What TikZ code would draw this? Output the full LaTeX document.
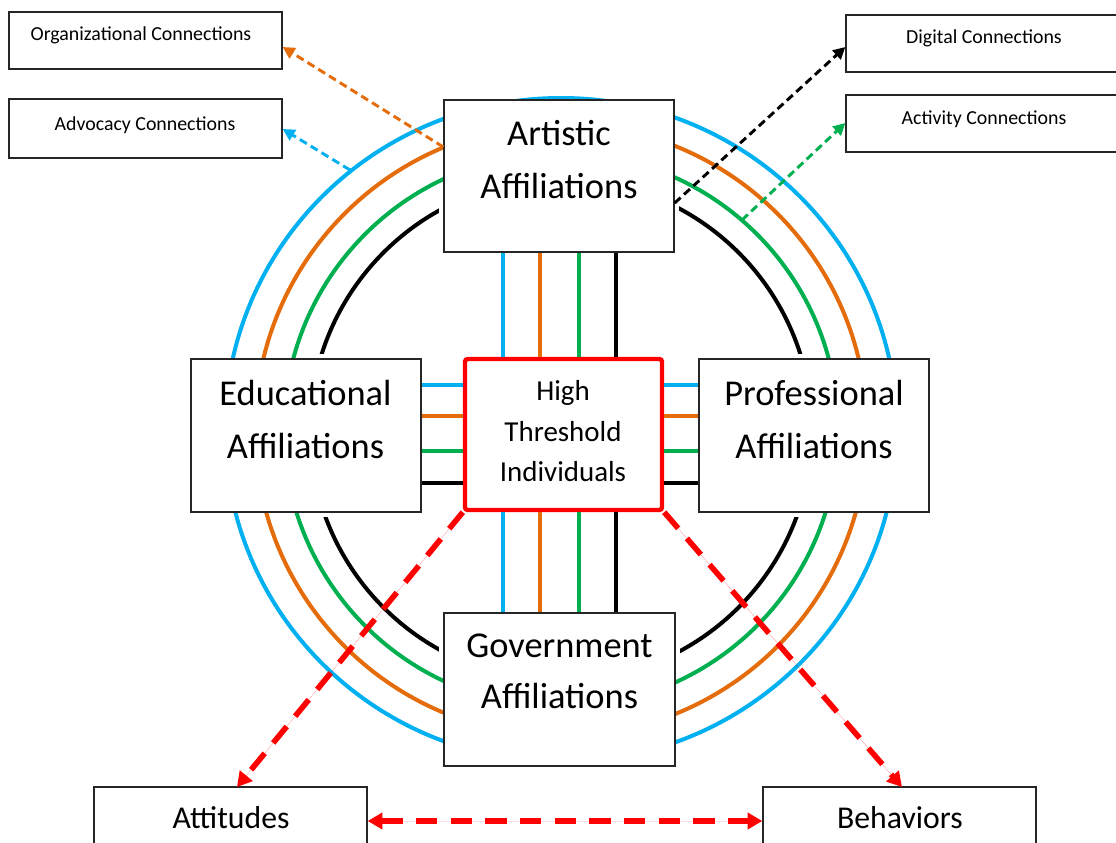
\documentclass[tikz,border=0pt]{standalone}
\usepackage{fontspec}
\setmainfont{Carlito}
\usetikzlibrary{arrows.meta,fit}
\definecolor{cblue}{HTML}{00B0F0}
\definecolor{corange}{HTML}{E46C0A}
\definecolor{cgreen}{HTML}{00B050}
\definecolor{cred}{HTML}{FF0000}
\tikzset{redtip/.tip={Triangle[length=11pt,width=12pt]}}
\begin{document}
\begin{tikzpicture}[x=0.75pt,y=-0.75pt,
  box/.style={draw=black!85, line width=1pt, fill=white, inner sep=0pt},
  ring/.style={line width=3pt},
  bar/.style={line width=3pt},
  txt/.style={inner sep=0pt, anchor=base},
  big/.style={txt, font=\fontsize{27.3}{30}\selectfont},
  mid/.style={txt, font=\fontsize{21.7}{25}\selectfont},
  lab/.style={txt, font=\fontsize{23.8}{27}\selectfont},
  small/.style={txt, font=\fontsize{14.9}{17}\selectfont},
  conn/.style={line width=2.2pt, dash pattern=on 6pt off 3.5pt, -{Triangle[length=9pt,width=9pt]}},
  reddash/.style={draw=cred, line width=4.2pt, dash pattern=on 16pt off 10pt},
]
\useasboundingbox (0,0) rectangle (1116,842);
\fill[white] (0,0) rectangle (1116,842);
\coordinate (c) at (561,430);
% black ring with gaps near the boxes
\draw[ring, black] (c) circle[radius=251];
\fill[white] (439,95) rectangle (679,257);
\fill[white] (439,608) rectangle (680,771);
\fill[white] (186,354) rectangle (426,517);
\fill[white] (694,354) rectangle (934,517);
\draw[ring, cgreen] (c) circle[radius=277];
\draw[ring, corange] (c) circle[radius=306];
\draw[ring, cblue] (c) ellipse[x radius=336, y radius=332];
% boxes
\node[box, fit={(444,100) (674,252)}] (art) {};
\node[box, fit={(191,359) (421,512)}] (edu) {};
\node[box, fit={(699,359) (929,512)}] (pro) {};
\node[box, fit={(444,613) (675,766)}] (gov) {};
\node[box, draw=cred, line width=3.3pt, rounded corners=2pt, fit={(465,359) (662,510)}] (hti) {};
\node[box, fit={(9,12) (282,69)}] (org) {};
\node[box, fit={(9,99) (282,158)}] (adv) {};
\node[box, fit={(846,15) (1122,72)}] (dig) {};
\node[box, fit={(846,95) (1122,152)}] (act) {};
\node[box, fit={(94,787) (367,860)}] (att) {};
\node[box, fit={(763,787) (1036,860)}] (beh) {};
% texts
\node[big] (artA) at (559,145) {Artistic};
\node[big] (artB) at (559,198) {Affiliations};
\node[big] (eduA) at (305.5,405) {Educational};
\node[big] (eduB) at (305.5,458) {Affiliations};
\node[big] (proA) at (814,405) {Professional};
\node[big] (proB) at (814,458) {Affiliations};
\node[big] (govA) at (559.5,657) {Government};
\node[big] (govB) at (559.5,708) {Affiliations};
\node[mid] (hiA) at (563,400) {High};
\node[mid] (hiB) at (563,441) {Threshold};
\node[mid] (hiC) at (563,481) {Individuals};
\node[lab] (attT) at (231,828) {Attitudes};
\node[lab] (behT) at (900,828) {Behaviors};
\node[small] (orgT) at (141,41) {Organizational Connections};
\node[small] (advT) at (145,130) {Advocacy Connections};
\node[small] (digT) at (984,44) {Digital Connections};
\node[small] (actT) at (984,124) {Activity Connections};
% straight coloured links
\coordinate (xa) at (503,0);
\coordinate (xb) at (540,0);
\coordinate (xc) at (579,0);
\coordinate (xd) at (616,0);
\coordinate (ya) at (0,385);
\coordinate (yb) at (0,416);
\coordinate (yc) at (0,451);
\coordinate (yd) at (0,483);
\foreach \xx/\col in {xa/cblue, xb/corange, xc/cgreen, xd/black} {
  \draw[bar, \col] (\xx |- art.south) -- (\xx |- hti.north);
  \draw[bar, \col] (\xx |- hti.south) -- (\xx |- gov.north);
}
\foreach \yy/\col in {ya/cblue, yb/corange, yc/cgreen, yd/black} {
  \draw[bar, \col] (edu.east |- \yy) -- (hti.west |- \yy);
  \draw[bar, \col] (hti.east |- \yy) -- (pro.west |- \yy);
}
% dashed connectors to the outer boxes
\coordinate (yo1) at (0,147);
\coordinate (yo2) at (0,47);
\coordinate (yk1) at (0,203);
\coordinate (yv2) at (0,129);
\coordinate (yg2) at (0,123);
\coordinate (bS) at (350,170);
\coordinate (gS) at (742,220);
\draw[conn, corange] (art.west |- yo1) -- (org.east |- yo2);
\draw[conn, cblue] (bS) -- (adv.east |- yv2);
\draw[conn, black] (art.east |- yk1) -- (dig.west |- yo2);
\draw[conn, cgreen] (gS) -- (act.west |- yg2);
% red dashed arrows
\coordinate (aTop) at (237,787);
\coordinate (bTop) at (902,787);
\coordinate (ym) at (0,821);
\draw[reddash, -{redtip}, fill=cred] (hti.south west) -- (aTop);
\draw[reddash, -{redtip}, fill=cred] (hti.south east) -- (bTop);
\draw[reddash, {redtip}-{redtip}, fill=cred] (att.east |- ym) -- (beh.west |- ym);
\end{tikzpicture}
\end{document}
